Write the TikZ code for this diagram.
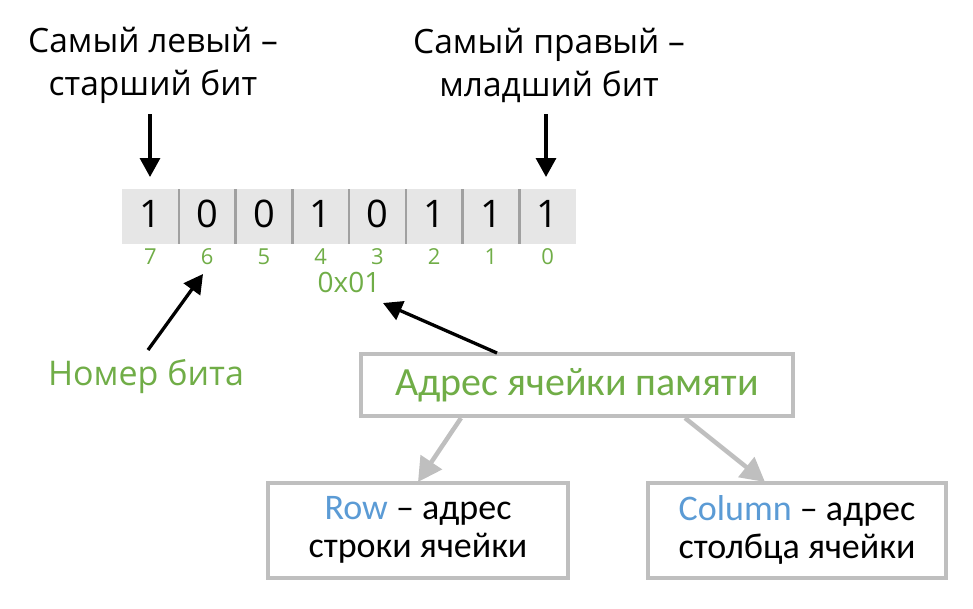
\documentclass[tikz,border=0pt]{standalone}
\usepackage{fontspec}
\setmainfont{Open Sans}
\newfontfamily\boxfont{Carlito}
\usetikzlibrary{arrows.meta}
\definecolor{bitgreen}{HTML}{70AD47}
\definecolor{rowblue}{HTML}{5B9BD5}
\definecolor{cellgray}{HTML}{E6E6E6}
\definecolor{rulegray}{HTML}{A0A0A0}
\definecolor{framegray}{HTML}{BFBFBF}
\begin{document}
\begin{tikzpicture}[x=1pt,y=-1pt,
  toplabel/.style={font=\fontsize{33.5}{43}\selectfont, align=center, text=black},
  bitdigit/.style={font=\fontsize{38}{40}\selectfont, text=black},
  bitindex/.style={font=\fontsize{22}{24}\selectfont, text=bitgreen},
  addrbox/.style={draw=framegray, line width=4pt, fill=white, inner sep=0pt, align=center,
                  font=\boxfont\fontsize{36}{38}\selectfont},
  blackarrow/.style={line width=3.3pt, black, -{Triangle[length=19pt,width=20pt]}},
  grayarrow/.style={line width=4.5pt, framegray, -{Triangle[length=24pt,width=25pt]}}
]
\useasboundingbox (0,0) rectangle (973,608);

% bit register
\fill[cellgray] (122,189) rectangle (576,244);
\foreach \i in {1,...,7}
  \draw[rulegray, line width=2.5pt] ({122+\i*56.75},189) -- ({122+\i*56.75},244);
\foreach \v [count=\k from 0] in {1,0,0,1,0,1,1,1} {
  \node[bitdigit] (d\k) at ({150.4+\k*56.75},214) {\v};
  \pgfmathtruncatemacro{\idx}{7-\k}
  \node[bitindex] (n\idx) at ({150.4+\k*56.75},257) {\idx};
}
\node[font=\fontsize{28}{30}\selectfont, text=bitgreen] (addr) at (349,282) {0x01};

% upper labels
\node[toplabel] (msb) at (153,65) {Самый левый –\\старший бит};
\node[toplabel] (lsb) at (549,65) {Самый правый –\\младший бит};
\coordinate (msbtop) at (150,114);
\coordinate (lsbtop) at (546,114);
\coordinate (msbend) at (150,177);
\coordinate (lsbend) at (546,177);
\draw[blackarrow] (msbtop) -- (msbend);
\draw[blackarrow] (lsbtop) -- (lsbend);

% bit number caption
\node[font=\fontsize{34}{38}\selectfont, text=bitgreen] (bitnum) at (146,377) {Номер бита};
\coordinate (bitnumtip) at (148,350);
\coordinate (sixtip) at (203,274);
\draw[blackarrow] (bitnumtip) -- (sixtip);

% address boxes
\node[addrbox, minimum width=432pt, minimum height=62pt, text=bitgreen,
      font=\boxfont\fontsize{40}{42}\selectfont] (cell) at (577,385)
  {Адрес ячейки памяти};
\node[addrbox, minimum width=300pt, minimum height=95pt] (row) at (418,530)
  {\textcolor{rowblue}{Row} – адрес\\строки ячейки};
\node[addrbox, minimum width=298pt, minimum height=95pt] (col) at (797,530)
  {\textcolor{rowblue}{Column} – адрес\\столбца ячейки};

\coordinate (celltop) at (497,353);
\coordinate (addrtip) at (383,303);
\draw[blackarrow] (celltop) -- (addrtip);

\coordinate (rowfrom) at (461,418);
\coordinate (rowtip) at (418,482);
\coordinate (colfrom) at (685,418);
\coordinate (coltip) at (765,482);
\draw[grayarrow] (rowfrom) -- (rowtip);
\draw[grayarrow] (colfrom) -- (coltip);
\end{tikzpicture}
\end{document}
